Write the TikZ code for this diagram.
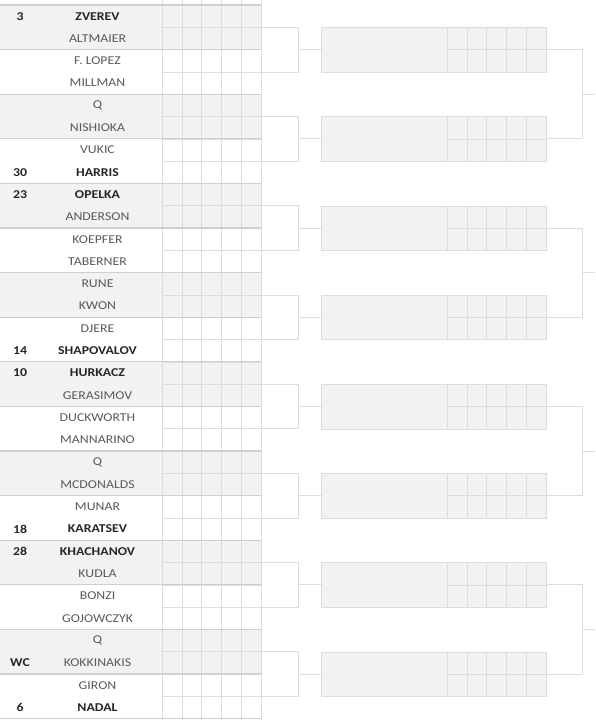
\documentclass[tikz,border=0pt]{standalone}
\usepackage{fontspec}
\setmainfont[FakeStretch=1.15]{Carlito}
\definecolor{cellgrey}{HTML}{F2F2F2}
\definecolor{gridline}{HTML}{DCDCDC}
\definecolor{rowedge}{HTML}{CFCFCF}
\definecolor{plaintext}{HTML}{595959}
\definecolor{seedtext}{HTML}{262626}
\begin{document}
\begin{tikzpicture}[x=1pt,y=-1pt,
        matchrow/.style={rectangle,inner sep=0pt,outer sep=0pt,minimum width=261pt,minimum height=44.6pt},
        rbox/.style={draw=gridline,fill=cellgrey,rectangle,inner sep=0pt,outer sep=0pt,minimum width=225pt,minimum height=44.6pt},
        plainname/.style={text=plaintext,font=\fontsize{12}{14}\selectfont},
        seedname/.style={text=seedtext,font=\fontsize{12}{14}\selectfont\bfseries},
        seednum/.style={text=seedtext,font=\fontsize{12}{14}\selectfont\bfseries},
        scoreline/.style={draw=gridline,line width=0.6pt},
        rowline/.style={draw=rowedge,line width=1.1pt},
        bracket/.style={draw=gridline,line width=0.7pt}
      ]
      \useasboundingbox (0,0) rectangle (595,720);
      % first round rows
      \foreach \k in {0,2,...,14} \node[matchrow,fill=cellgrey] (m\k) at (130.5,27.3+44.6*\k) {};
      \foreach \k in {1,3,...,15} \node[matchrow] (m\k) at (130.5,27.3+44.6*\k) {};
      \foreach \c in {0,...,5} \draw[scoreline] (162+19.8*\c,0) -- (162+19.8*\c,720);
      \foreach \r in {0,...,32} \draw[scoreline] (162,5+22.3*\r) -- (261,5+22.3*\r);
      \foreach \k in {0,...,16} \draw[rowline] (0,5+44.6*\k) -- (261,5+44.6*\k);
      % players
      \foreach \nm/\st [count=\i from 0] in {ZVEREV/seedname,ALTMAIER/plainname,F. LOPEZ/plainname,MILLMAN/plainname,
          Q/plainname,NISHIOKA/plainname,VUKIC/plainname,HARRIS/seedname,
          OPELKA/seedname,ANDERSON/plainname,KOEPFER/plainname,TABERNER/plainname,
          RUNE/plainname,KWON/plainname,DJERE/plainname,SHAPOVALOV/seedname,
          HURKACZ/seedname,GERASIMOV/plainname,DUCKWORTH/plainname,MANNARINO/plainname,
          Q/plainname,MCDONALDS/plainname,MUNAR/plainname,KARATSEV/seedname,
          KHACHANOV/seedname,KUDLA/plainname,BONZI/plainname,GOJOWCZYK/plainname,
          Q/plainname,KOKKINAKIS/plainname,GIRON/plainname,NADAL/seedname}
        \node[\st] (p\i) at (97.5,16.15+22.3*\i) {\nm};
      \foreach \i/\sd in {0/3,7/30,8/23,15/14,16/10,23/18,24/28,29/WC,31/6}
        \node[seednum] (s\i) at (20,16.15+22.3*\i) {\sd};
      % second round boxes
      \foreach \j in {0,...,7} {
        \node[rbox] (r\j) at (433.5,49.6+89.2*\j) {};
        \foreach \c in {0,...,4} \draw[scoreline] (447+19.8*\c,27.3+89.2*\j) -- (447+19.8*\c,71.9+89.2*\j);
        \draw[scoreline] (447,49.6+89.2*\j) -- (r\j.east);
      }
      % brackets
      \foreach \j in {0,...,7} {
        \pgfmathtruncatemacro\ka{2*\j}
        \pgfmathtruncatemacro\kb{2*\j+1}
        \draw[bracket] (m\ka.east) -- ++(37,0) |- (r\j.west);
        \draw[bracket] (m\kb.east) -- ++(37,0) |- (r\j.west);
      }
      \foreach \q in {0,...,3} {
        \pgfmathtruncatemacro\ja{2*\q}
        \pgfmathtruncatemacro\jb{2*\q+1}
        \coordinate (q\q) at (595,94.2+178.4*\q);
        \draw[bracket] (r\ja.east) -- ++(36,0) |- (q\q);
        \draw[bracket] (r\jb.east) -- ++(36,0) |- (q\q);
      }
    \end{tikzpicture}
\end{document}
